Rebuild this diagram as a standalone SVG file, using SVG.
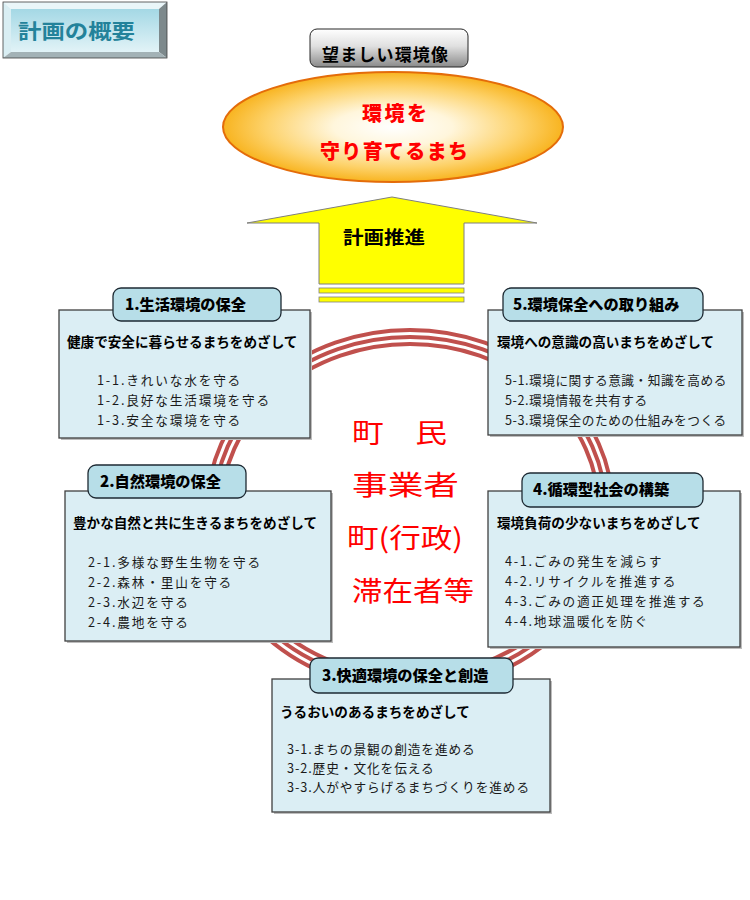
<svg xmlns="http://www.w3.org/2000/svg" width="750" height="900" viewBox="0 0 750 900">
<defs>
  <linearGradient id="face" x1="0" y1="0" x2="0" y2="1">
    <stop offset="0" stop-color="#a4d8e5"/>
    <stop offset="1" stop-color="#e2f3f7"/>
  </linearGradient>
  <linearGradient id="gray" x1="0" y1="0" x2="0" y2="1">
    <stop offset="0" stop-color="#ffffff"/>
    <stop offset="0.45" stop-color="#e0e0e0"/>
    <stop offset="1" stop-color="#8a8a8a"/>
  </linearGradient>
  <radialGradient id="sun" cx="0.5" cy="0.5" r="0.5">
    <stop offset="0" stop-color="#ffffff"/>
    <stop offset="0.35" stop-color="#fff6dc"/>
    <stop offset="0.75" stop-color="#fdd26a"/>
    <stop offset="1" stop-color="#f8b420"/>
  </radialGradient>
  <style>
    text { font-family: "Noto Sans CJK JP", "Noto Sans", sans-serif; }
    .box { fill: #dbeef4; stroke: #404040; stroke-width: 1.3; }
    .shadow { fill: #bdbdbd; }
    .tab { fill: #b7dee8; stroke: #1e2a33; stroke-width: 1.3; }
    .hd { font-size: 15.2px; font-weight: 900; fill: #000; }
    .sub { font-size: 13.6px; font-weight: 700; fill: #000; }
    .it { font-size: 12.7px; font-weight: 400; fill: #1a1a1a; }
    .ring { fill: none; stroke: #c0504d; stroke-width: 4; }
    .ctr { font-size: 27px; font-weight: 400; fill: #ff0000; }
  </style>
</defs>
<rect width="750" height="900" fill="#ffffff"/>

<!-- title button -->
<g id="title">
  <polygon points="3,2 167,2 159,9 11,9" fill="#eaf6f9"/>
  <polygon points="3,2 11,9 11,52 3,58" fill="#d9eef3"/>
  <polygon points="167,2 167,58 159,52 159,9" fill="#7d898c"/>
  <polygon points="3,58 167,58 159,52 11,52" fill="#a3b2b6"/>
  <rect x="11" y="9" width="148" height="43" fill="url(#face)"/>
  <rect x="3" y="2" width="164" height="56" fill="none" stroke="#404040" stroke-width="0.8"/>
  <text x="18" y="39" font-size="20" font-weight="700" fill="#23829a" textLength="117" lengthAdjust="spacingAndGlyphs">計画の概要</text>
</g>

<!-- vision -->
<g id="vision-label">
  <rect x="310" y="29" width="158" height="38" rx="7" fill="url(#gray)" stroke="#262626" stroke-width="1"/>
  <text x="322" y="61" font-size="17" font-weight="700" fill="#000" textLength="126">望ましい環境像</text>
</g>
<g id="vision">
  <ellipse cx="393" cy="127" rx="170" ry="55" fill="url(#sun)" stroke="#e46c0a" stroke-width="2"/>
  <text x="362" y="121" font-size="20" font-weight="900" fill="#ff0000" textLength="65">環境を</text>
  <text x="320" y="159" font-size="20" font-weight="900" fill="#ff0000" textLength="148">守り育てるまち</text>
</g>

<!-- arrow -->
<g id="promotion">
  <polygon points="392,197 537,223 464,223 464,284 319,284 319,223 247,223" fill="#ffff00" stroke="#7f7f7f" stroke-width="1"/>
  <rect x="319" y="288" width="145" height="5" fill="#ffff00" stroke="#7f7f7f" stroke-width="0.8"/>
  <rect x="319" y="297" width="145" height="5" fill="#ffff00" stroke="#7f7f7f" stroke-width="0.8"/>
  <text x="343" y="244" font-size="18" font-weight="700" fill="#000" textLength="82" lengthAdjust="spacingAndGlyphs">計画推進</text>
</g>

<!-- ring -->
<g id="connectors">
  <ellipse class="ring" cx="410" cy="510" rx="203" ry="180"/>
  <ellipse class="ring" cx="410" cy="510" rx="196" ry="173"/>
  <ellipse class="ring" cx="410" cy="510" rx="189" ry="166"/>
</g>

<!-- center actors -->
<g id="actors">
  <text class="ctr" x="352" y="443" textLength="95" lengthAdjust="spacingAndGlyphs">町　民</text>
  <text class="ctr" x="352" y="495" textLength="107" lengthAdjust="spacingAndGlyphs">事業者</text>
  <text class="ctr" x="347" y="548" textLength="116" lengthAdjust="spacingAndGlyphs">町(行政)</text>
  <text class="ctr" x="352" y="601" textLength="122" lengthAdjust="spacingAndGlyphs">滞在者等</text>
</g>

<!-- box 1 -->
<g id="box1">
  <rect class="shadow" x="61" y="312" width="251" height="128"/>
  <rect class="box" x="59" y="310" width="251" height="128"/>
  <rect class="tab" x="113" y="288" width="168" height="33" rx="8"/>
  <text class="hd" x="125" y="310">1.生活環境の保全</text>
  <text class="sub" x="67" y="347">健康で安全に暮らせるまちをめざして</text>
  <text class="it" x="97" y="385" letter-spacing="1.8">1-1.きれいな水を守る</text>
  <text class="it" x="97" y="405" letter-spacing="1.8">1-2.良好な生活環境を守る</text>
  <text class="it" x="97" y="425" letter-spacing="1.8">1-3.安全な環境を守る</text>
</g>

<!-- box 5 -->
<g id="box5">
  <rect class="shadow" x="490" y="312" width="254" height="125"/>
  <rect class="box" x="488" y="310" width="254" height="125"/>
  <rect class="tab" x="503" y="288" width="200" height="33" rx="8"/>
  <text class="hd" x="513" y="310">5.環境保全への取り組み</text>
  <text class="sub" x="497" y="347">環境への意識の高いまちをめざして</text>
  <text class="it" x="505" y="385" letter-spacing="0.5">5-1.環境に関する意識・知識を高める</text>
  <text class="it" x="505" y="405" letter-spacing="0.5">5-2.環境情報を共有する</text>
  <text class="it" x="505" y="425" letter-spacing="0.5">5-3.環境保全のための仕組みをつくる</text>
</g>

<!-- box 2 -->
<g id="box2">
  <rect class="shadow" x="67" y="493" width="266" height="150"/>
  <rect class="box" x="65" y="491" width="266" height="150"/>
  <rect class="tab" x="88" y="465" width="158" height="33" rx="8"/>
  <text class="hd" x="100" y="487">2.自然環境の保全</text>
  <text class="sub" x="73" y="528">豊かな自然と共に生きるまちをめざして</text>
  <text class="it" x="88" y="567" letter-spacing="1.8">2-1.多様な野生生物を守る</text>
  <text class="it" x="88" y="587" letter-spacing="1.8">2-2.森林・里山を守る</text>
  <text class="it" x="88" y="607" letter-spacing="1.8">2-3.水辺を守る</text>
  <text class="it" x="88" y="627" letter-spacing="1.8">2-4.農地を守る</text>
</g>

<!-- box 4 -->
<g id="box4">
  <rect class="shadow" x="490" y="493" width="252" height="156"/>
  <rect class="box" x="488" y="491" width="252" height="156"/>
  <rect class="tab" x="522" y="473" width="181" height="34" rx="8"/>
  <text class="hd" x="533" y="495">4.循環型社会の構築</text>
  <text class="sub" x="497" y="528">環境負荷の少ないまちをめざして</text>
  <text class="it" x="505" y="566" letter-spacing="1.7">4-1.ごみの発生を減らす</text>
  <text class="it" x="505" y="586" letter-spacing="1.7">4-2.リサイクルを推進する</text>
  <text class="it" x="505" y="606" letter-spacing="1.7">4-3.ごみの適正処理を推進する</text>
  <text class="it" x="505" y="626" letter-spacing="1.7">4-4.地球温暖化を防ぐ</text>
</g>

<!-- box 3 -->
<g id="box3">
  <rect class="shadow" x="274" y="681" width="278" height="133"/>
  <rect class="box" x="272" y="679" width="278" height="133"/>
  <rect class="tab" x="310" y="658" width="203" height="35" rx="8"/>
  <text class="hd" x="322" y="681">3.快適環境の保全と創造</text>
  <text class="sub" x="280" y="717">うるおいのあるまちをめざして</text>
  <text class="it" x="287" y="754" letter-spacing="0.9">3-1.まちの景観の創造を進める</text>
  <text class="it" x="287" y="773" letter-spacing="0.9">3-2.歴史・文化を伝える</text>
  <text class="it" x="287" y="792" letter-spacing="0.9">3-3.人がやすらげるまちづくりを進める</text>
</g>
</svg>
